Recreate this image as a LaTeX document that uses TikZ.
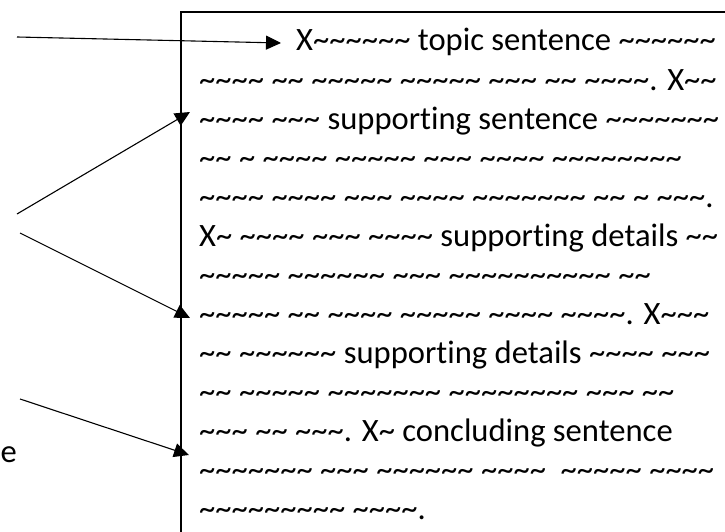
\documentclass[tikz,border=0pt]{standalone}
\usepackage{fontspec}
\setmainfont{Carlito}[Ligatures=NoCommon]
\usetikzlibrary{arrows.meta}
\begin{document}
\begin{tikzpicture}[x=1pt,y=-1pt,
  ln/.style={anchor=base west, inner sep=0pt, font=\fontsize{32.6}{39}\selectfont},
  pointer/.style={line width=1.1pt, -{Triangle[length=15pt,width=14pt]}},
  frame/.style={line width=2pt}]
\def~{\string~}
\useasboundingbox (0,0) rectangle (725,532);
% frame of the paragraph (cut by the picture's edges)
\draw[frame] (727,12) -| (181,534);
% paragraph lines
\node[ln] (l1)  at (296,51)     {X~~~~~~ topic sentence ~~~~~~};
\node[ln] (l2)  at (199,90.06)  {~~~~ ~~ ~~~~~ ~~~~~ ~~~ ~~ ~~~~. X~~};
\node[ln] (l3)  at (199,129.12) {~~~~ ~~~ supporting sentence ~~~~~~~};
\node[ln] (l4)  at (199,168.18) {~~ ~ ~~~~ ~~~~~ ~~~ ~~~~ ~~~~~~~~};
\node[ln] (l5)  at (199,207.24) {~~~~ ~~~~ ~~~ ~~~~ ~~~~~~~ ~~ ~ ~~~.};
\node[ln] (l6)  at (199,246.3)  {X~ ~~~~ ~~~ ~~~~ supporting details ~~};
\node[ln] (l7)  at (199,285.36) {~~~~~ ~~~~~~ ~~~ ~~~~~~~~~~ ~~};
\node[ln] (l8)  at (199,324.42) {~~~~~ ~~ ~~~~ ~~~~~ ~~~~ ~~~~. X~~~};
\node[ln] (l9)  at (199,363.48) {~~ ~~~~~~ supporting details ~~~~ ~~~};
\node[ln] (l10) at (199,402.54) {~~ ~~~~~ ~~~~~~~ ~~~~~~~~ ~~~ ~~};
\node[ln] (l11) at (199,441.6)  {~~~ ~~ ~~~. X~ concluding sentence};
\node[ln] (l12) at (199,480.66) {~~~~~~~ ~~~ ~~~~~~ ~~~~ \ ~~~~~ ~~~~};
\node[ln] (l13) at (199,519.72) {~~~~~~~~~ ~~~~.};
% label at the left edge
\node[anchor=base west, inner sep=0pt, font=\fontsize{32.6}{39}\selectfont] (lab) at (0.5,462) {e};
% pointer ends
\coordinate (s1) at (17,37);
\coordinate (t1) at (281,43);
\coordinate (s2) at (17,214);
\coordinate (t2) at (190,112);
\coordinate (s3) at (20,233);
\coordinate (t3) at (190,318);
\coordinate (s4) at (20,399);
\coordinate (t4) at (189,455);
\draw[pointer] (s1) -- (t1);
\draw[pointer] (s2) -- (t2);
\draw[pointer] (s3) -- (t3);
\draw[pointer] (s4) -- (t4);
\end{tikzpicture}
\end{document}
